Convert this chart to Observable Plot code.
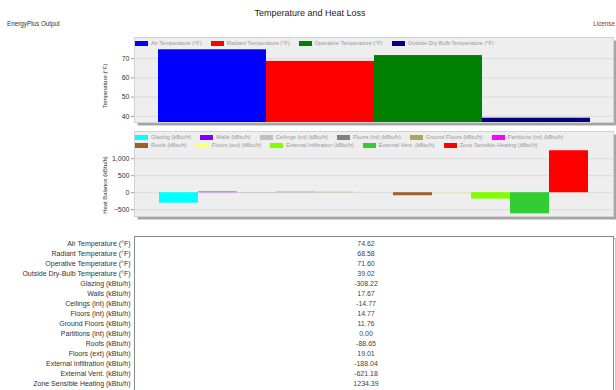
<!DOCTYPE html>
<html><head><meta charset="utf-8">
<script src="https://cdn.jsdelivr.net/npm/d3@7"></script>
<script src="https://cdn.jsdelivr.net/npm/@observablehq/plot@0.6"></script>
<style>
html,body{margin:0;padding:0;background:#fff;}
#root{position:relative;width:616px;height:390px;overflow:hidden;font-family:"Liberation Sans",Arial,sans-serif;}
.abs{position:absolute;}
#title{left:0;width:620px;top:8px;text-align:center;font-size:9px;color:#222;}
#sub{left:7px;top:20px;font-size:6.3px;color:#333;white-space:nowrap;}
#lic{right:1px;top:20px;font-size:6.3px;color:#a52a2a;white-space:nowrap;}
.legend{display:flex;flex-wrap:wrap;width:476px;}
.item{display:flex;align-items:center;margin-right:9px;height:8px;}
.sw{width:13px;height:5px;margin-right:3px;}
.lt{font-size:5.6px;color:#999;white-space:nowrap;}
</style></head><body><div id="root"></div>
<script>
const titleText = "Temperature and Heat Loss";
const subtitleText = "EnergyPlus Output";
const licenseText = "License";

const tempSeries = ["Air Temperature (°F)", "Radiant Temperature (°F)", "Operative Temperature (°F)", "Outside Dry Bulb Temperature (°F)"];
const tempValues = [74.62, 68.58, 71.60, 39.02];
const tempColors = ["#0000ff", "#ff0000", "#008000", "#000080"];
const tempTicks = [40, 50, 60, 70];
const tempDomain = [36.8, 81];
const tempAxisLabel = "Temperature (°F)";

const heatSeries = ["Glazing (kBtu/h)", "Walls (kBtu/h)", "Ceilings (int) (kBtu/h)", "Floors (int) (kBtu/h)", "Ground Floors (kBtu/h)", "Partitions (int) (kBtu/h)", "Roofs (kBtu/h)", "Floors (ext) (kBtu/h)", "External Infiltration (kBtu/h)", "External Vent. (kBtu/h)", "Zone Sensible Heating (kBtu/h)"];
const heatValues = [-308.22, 17.67, -14.77, 14.77, 11.76, 0.00, -88.65, 19.01, -188.04, -621.18, 1234.39];
const heatColors = ["#00ffff", "#8000ff", "#c0c0c0", "#808080", "#aaa55a", "#ff00ff", "#a0602d", "#ffff80", "#80ff00", "#32cd32", "#ff0000"];
const heatTicks = [-500, 0, 500, 1000];
const heatDomain = [-700, 1800];
const heatAxisLabel = "Heat Balance (kBtu/h)";

const tableLabels = ["Air Temperature (°F)", "Radiant Temperature (°F)", "Operative Temperature (°F)", "Outside Dry-Bulb Temperature (°F)", "Glazing (kBtu/h)", "Walls (kBtu/h)", "Ceilings (int) (kBtu/h)", "Floors (int) (kBtu/h)", "Ground Floors (kBtu/h)", "Partitions (int) (kBtu/h)", "Roofs (kBtu/h)", "Floors (ext) (kBtu/h)", "External Infiltration (kBtu/h)", "External Vent. (kBtu/h)", "Zone Sensible Heating (kBtu/h)"];
const tableValues = [...tempValues, ...heatValues];

const root = document.getElementById("root");
function addText(id, text) {
  const d = document.createElement("div");
  d.id = id; d.className = "abs"; d.textContent = text;
  root.appendChild(d);
}
addText("title", titleText);
addText("sub", subtitleText);
addText("lic", licenseText);

const font = '"Liberation Sans", Arial, sans-serif';

function barChart(series, values, colors, ticks, domain, axisLabel, height, marginTop, labelDy, top) {
  const data = series.map((s, i) => ({series: s, value: values[i]}));
  const svg = Plot.plot({
    width: 616, height, marginTop, marginBottom: 6, marginLeft: 134, marginRight: 3,
    style: {background: "transparent", fontFamily: font, fontSize: "7px", color: "#333"},
    x: {type: "band", domain: series, padding: 0, insetLeft: 23, insetRight: 23, axis: null},
    y: {domain, axis: null},
    color: {domain: series, range: colors},
    marks: [
      Plot.frame({fill: "#a6a6a6", dx: 3, dy: 3}),
      Plot.frame({fill: "#eeeeee", stroke: "#d2d2d2"}),
      Plot.gridY(ticks, {stroke: "#dadada", strokeOpacity: 1}),
      Plot.barY(data, {x: "series", y: "value", fill: "series", clip: true}),
      Plot.axisY(ticks, {tickSize: 3, tickPadding: 2, label: null, stroke: "#999", fill: "#333"}),
      Plot.text([axisLabel], {text: d => d, frameAnchor: "left", textAnchor: "middle", rotate: -90, dx: -29, dy: labelDy, fontSize: 5.9, fill: "#333"})
    ]
  });
  svg.style.position = "absolute";
  svg.style.left = "0px";
  svg.style.top = top + "px";
  root.appendChild(svg);
}

function legend(names, colors, left, top) {
  const div = document.createElement("div");
  div.className = "abs legend";
  div.style.left = left + "px";
  div.style.top = top + "px";
  names.forEach((n, i) => {
    const it = document.createElement("div"); it.className = "item";
    const sw = document.createElement("div"); sw.className = "sw"; sw.style.background = colors[i];
    const t = document.createElement("div"); t.className = "lt"; t.textContent = n;
    it.appendChild(sw); it.appendChild(t); div.appendChild(it);
  });
  root.appendChild(div);
}

barChart(tempSeries, tempValues, tempColors, tempTicks, tempDomain, tempAxisLabel, 98, 7, 6, 30);
barChart(heatSeries, heatValues, heatColors, heatTicks, heatDomain, heatAxisLabel, 96, 5, 11, 126);
legend(tempSeries, tempColors, 135, 39);
legend(heatSeries, heatColors, 135, 133);

// table
const tableData = tableLabels.map((l, i) => ({label: l, value: tableValues[i]}));
const table = Plot.plot({
  width: 616, height: 170, marginTop: 6, marginBottom: 0, marginLeft: 134, marginRight: 3,
  style: {background: "transparent", fontFamily: font, fontSize: "7px", color: "#333"},
  y: {type: "point", domain: tableLabels, range: [12, 12 + 14 * 10.2], padding: 0, axis: null},
  marks: [
    Plot.frame({stroke: "#c4c4c4", dx: 2, dy: 2}),
    Plot.frame({fill: "white", stroke: "#888"}),
    Plot.axisY({tickSize: 0, tickPadding: 4, label: null, fill: "#333"}),
    Plot.text(tableData, {y: "label", text: d => d.value.toFixed(2), frameAnchor: "middle", dx: -8, fill: "#444"})
  ]
});
table.style.position = "absolute";
table.style.left = "0px";
table.style.top = "230px";
root.appendChild(table);
</script>
</body></html>
